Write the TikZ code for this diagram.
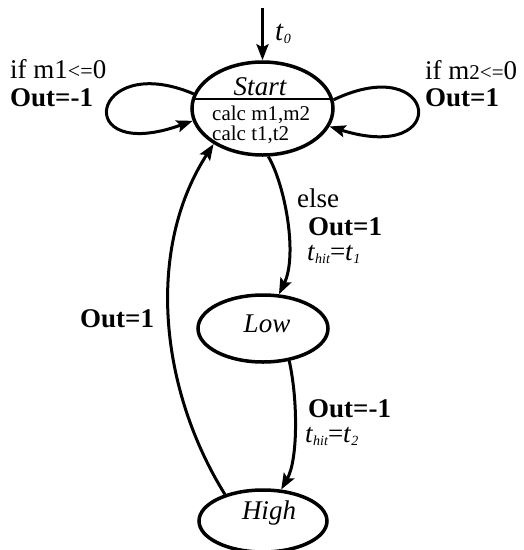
\documentclass[tikz,border=0pt]{standalone}
\usepackage{fontspec}
\setmainfont{Liberation Serif}
\usetikzlibrary{shapes.geometric,arrows.meta,calc}
\newcommand\tsubx[2]{\textit{#1}\raisebox{-3pt}{\fontsize{14}{14}\selectfont\itshape #2}}
\begin{document}
\begin{tikzpicture}[x=1pt,y=1pt,
  state/.style={ellipse, draw, line width=3.5pt, inner sep=0pt, font=\fontsize{27}{30}\selectfont\itshape},
  conn/.style={line width=3pt, -{Stealth[length=16pt,width=12pt,inset=3pt]}},
  lbl/.style={inner sep=0pt, anchor=base west, font=\fontsize{27}{30}\selectfont},
  lblb/.style={lbl, font=\fontsize{27}{30}\selectfont\bfseries},
  calcl/.style={inner sep=0pt, anchor=base west, font=\fontsize{21}{20}\selectfont},
]
\useasboundingbox (0,0) rectangle (524,-550);
% states
\node[state, minimum width=141pt, minimum height=93pt] (S) at (262.5,-108.5) {};
\draw[line width=2pt] ($(S.center)+(-69,9.5)$) -- ($(S.center)+(69,9.5)$);
\node[inner sep=0pt, anchor=base, font=\fontsize{27}{30}\selectfont\itshape] (st) at (260,-95) {Start};
\node[calcl] (c1) at (212,-120.5) {calc m1,m2};
\node[calcl] (c2) at (212,-140) {calc t1,t2};
\node[state, minimum width=130pt, minimum height=67pt, text height=12pt, text depth=5pt] (L) at (263,-328.5) {\hspace{8pt}Low};
\node[state, minimum width=128pt, minimum height=62pt, text height=8pt, text depth=11pt] (H) at (263,-521) {\hspace{12pt}High};
% connectors
\coordinate (init) at (262.5,-8);
\draw[conn] (init) -- (S.north);
\draw[conn] (S.168) .. controls (90,-50) and (70,-165) .. (S.190);
\draw[conn] (S.7) .. controls (438,-50) and (453,-165) .. (S.345);
\draw[conn] (S.277) .. controls (285,-185) and (298,-255) .. (L.65);
\draw[conn] (L.-51) .. controls (298,-400) and (298,-460) .. (H.60);
\draw[conn] (H.145) .. controls (160,-390) and (145,-250) .. (S.216);
% labels
\node[lbl, font=\fontsize{29}{30}\selectfont] (t0) at (275,-40) {\tsubx{t}{0}};
\node[lbl] (g1) at (10,-78) {if m1{\fontsize{22}{22}\selectfont<=}0};
\node[lblb] (o1) at (10,-106) {Out=-1};
\node[lbl] (g2) at (425,-79) {if m{\fontsize{21}{21}\selectfont2<=}0};
\node[lblb] (o2) at (425,-106) {Out=1};
\node[lbl] (el) at (297,-207) {else};
\node[lblb] (o3) at (308,-235) {Out=1};
\node[lbl] (h1) at (307,-260) {\tsubx{t}{hit}=\tsubx{t}{1}};
\node[lblb] (o4) at (308,-417) {Out=-1};
\node[lbl] (h2) at (305,-442) {\tsubx{t}{hit}=\tsubx{t}{2}};
\node[lblb] (o5) at (80,-327) {Out=1};
\end{tikzpicture}
\end{document}
